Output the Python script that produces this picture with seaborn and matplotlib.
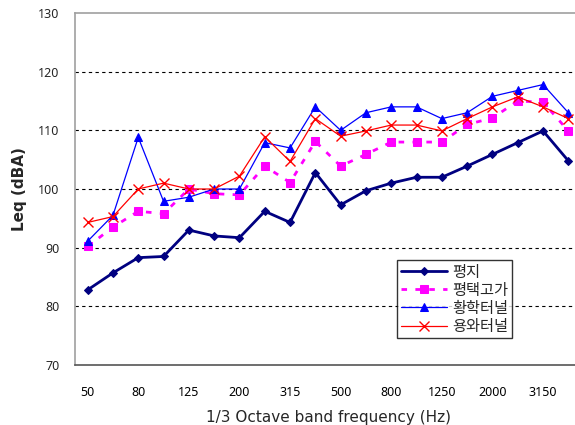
import matplotlib
matplotlib.use("Agg")
import matplotlib.pyplot as plt
import seaborn as sns
import numpy as np
import pandas as pd

freqs = ["50", "63", "80", "100", "125", "160", "200", "250", "315", "400",
         "500", "630", "800", "1000", "1250", "1600", "2000", "2500", "3150", "4000"]
s_flat = [82.8, 85.7, 88.3, 88.5, 93.0, 92.0, 91.7, 96.2, 94.3, 102.8,
          97.3, 99.7, 101.0, 102.0, 102.0, 103.9, 105.9, 107.9, 109.9, 104.8]
s_viaduct = [90.2, 93.5, 96.2, 95.8, 100.0, 99.2, 99.0, 103.9, 101.1, 108.1,
             103.9, 105.9, 108.0, 108.0, 108.0, 111.0, 112.1, 115.0, 114.8, 109.9]
s_hwanghak = [91.1, 95.5, 108.8, 97.9, 98.6, 100.0, 100.0, 107.9, 107.0, 114.0,
              110.0, 113.0, 114.0, 114.0, 112.0, 113.0, 115.8, 116.8, 117.8, 113.0]
s_yongwa = [94.3, 95.3, 100.0, 101.0, 100.0, 100.0, 102.2, 108.9, 104.7, 112.0,
            109.0, 109.9, 110.9, 110.9, 109.9, 112.0, 114.0, 115.7, 114.0, 112.0]
names = ["평지", "평택고가", "황학터널", "용와터널"]
yticks = [70, 80, 90, 100, 110, 120, 130]

sns.set_style("white")
plt.rcParams['font.family'] = ['DejaVu Sans', 'Noto Sans CJK KR']

fig = plt.figure(figsize=(5.75, 4.25), dpi=100)
ax = fig.add_axes([75/575, 1-365/425, 506/575, 352/425])

x = np.arange(len(freqs))
styles = [
    dict(color="#000080", lw=2.0, marker="D", ms=4, mec="#000080", mfc="#000080", linestyle="-"),
    dict(color="#FF00FF", lw=2.0, marker="s", ms=6, mec="#FF00FF", mfc="#FF00FF", linestyle=(0, (2, 3))),
    dict(color="#0000FF", lw=0.9, marker="^", ms=6, mec="#0000FF", mfc="#0000FF", linestyle="-"),
    dict(color="#FF0000", lw=0.9, marker="x", ms=7, mew=1.0, mec="#FF0000", linestyle="-"),
]
for name, vals, st in zip(names, [s_flat, s_viaduct, s_hwanghak, s_yongwa], styles):
    df = pd.DataFrame({"x": x, "y": vals})
    sns.lineplot(data=df, x="x", y="y", ax=ax, label=name, clip_on=False, **st)

ax.set_xlim(-0.5, len(freqs) - 0.5)
ax.set_ylim(70, 130)
ax.set_yticks(yticks)
ax.set_yticklabels([str(v) for v in yticks], family="Noto Sans")
ax.set_xticks(x[::2])
ax.set_xticklabels(freqs[::2], family="Noto Sans")
ax.set_xticks(np.arange(-0.5, len(freqs), 1.0), minor=True)
ax.tick_params(axis="x", which="major", length=0, pad=15, labelsize=9, colors="#000000")
ax.tick_params(axis="x", which="minor", length=4, direction="in", color="#555555", width=0.8)
ax.tick_params(axis="y", length=0, pad=11, labelsize=9)

for v in yticks[1:-1]:
    ax.axhline(v, color="black", lw=0.8, linestyle=(0, (3, 3)), zorder=0)

ax.spines["right"].set_visible(False)
ax.spines["top"].set_color("#a0a0a0")
ax.spines["left"].set_color("#a0a0a0")
ax.spines["bottom"].set_color("#555555")
for s in ["top", "left", "bottom"]:
    ax.spines[s].set_linewidth(1.2)

ax.set_xlabel("1/3 Octave band frequency (Hz)", fontsize=11, labelpad=8)
ax.set_ylabel("Leq (dBA)", fontsize=11, fontweight="bold", labelpad=8)

leg = ax.legend(loc="upper left", bbox_to_anchor=(0.636, 0.298), fontsize=11,
                frameon=True, fancybox=False, edgecolor="black", handlelength=3.0,
                borderpad=0.3, labelspacing=0.2, handletextpad=0.3, borderaxespad=0)
leg.get_frame().set_linewidth(1.0)

fig.savefig("out.png", dpi=100)
